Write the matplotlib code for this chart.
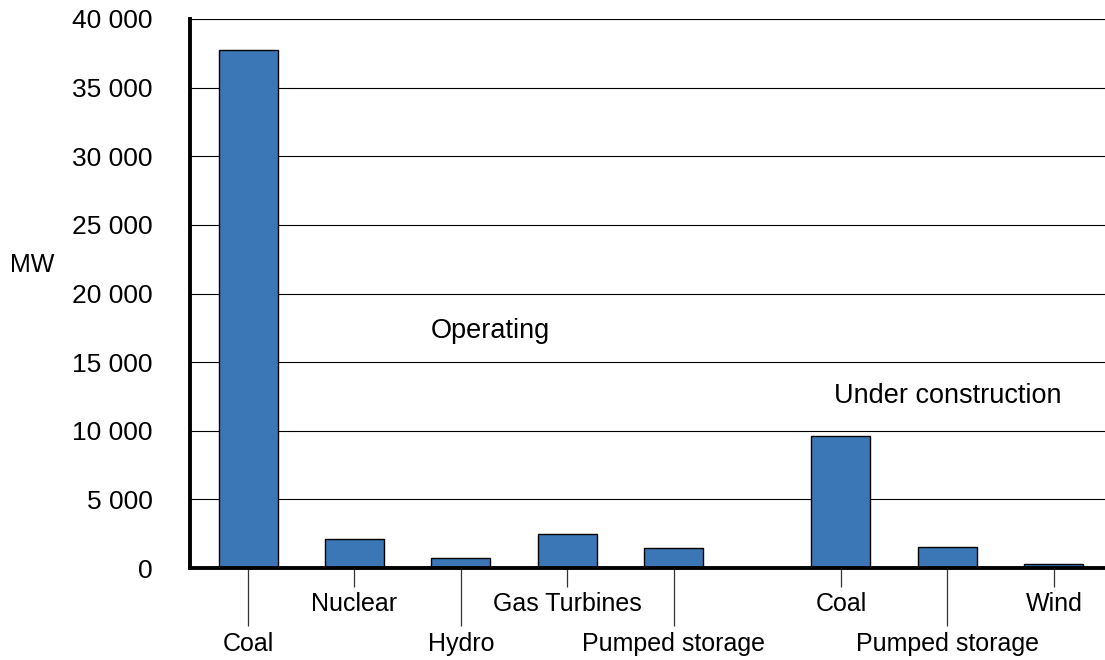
import matplotlib
matplotlib.use('Agg')
import matplotlib.pyplot as plt
from matplotlib.ticker import FuncFormatter

# operating capacity, MW
operating_labels = ['Coal', 'Nuclear', 'Hydro', 'Gas Turbines', 'Pumped storage']
operating_mw = [37750, 2100, 700, 2500, 1450]

# under construction, MW
construction_labels = ['Coal', 'Pumped storage', 'Wind']
construction_mw = [9650, 1500, 300]

plt.rcParams['font.family'] = ['Liberation Sans', 'DejaVu Sans']
plt.rcParams['font.size'] = 18

labels = operating_labels + construction_labels
values = operating_mw + construction_mw
gap = 0.57
xs = list(range(len(operating_labels))) + \
     [len(operating_labels) + gap + i for i in range(len(construction_labels))]

fig = plt.figure(figsize=(11.05, 6.6), dpi=100)
ax = fig.add_axes([190 / 1105, 1 - 568 / 660, 1 - 190 / 1105, (568 - 19) / 660])

ax.bar(xs, values, width=0.554, color='#3b77b7', edgecolor='black', linewidth=1.0, zorder=3)

ax.set_xlim(-0.545, xs[-1] + 0.48)
ax.set_ylim(0, 40000)
ax.set_yticks(range(0, 40001, 5000))
ax.yaxis.set_major_formatter(FuncFormatter(lambda v, p: '{:,}'.format(int(v)).replace(',', ' ')))
ax.tick_params(axis='y', length=0, pad=27, labelsize=19)
ax.yaxis.grid(True, color='black', linewidth=0.8, zorder=0)

# long ticks on every other bar, short ticks between them
ax.set_xticks(xs[0::2])
ax.set_xticklabels(labels[0::2])
ax.set_xticks(xs[1::2], minor=True)
ax.set_xticklabels(labels[1::2], minor=True)
ax.tick_params(axis='x', which='major', length=42, width=0.9, color='#333333', pad=4, labelsize=18)
ax.tick_params(axis='x', which='minor', length=14, width=0.9, color='#333333', pad=3, labelsize=18)

for s in ['top', 'right']:
    ax.spines[s].set_visible(False)
ax.spines['left'].set_linewidth(2.8)
ax.spines['bottom'].set_linewidth(2.8)
ax.spines['left'].set_zorder(4)
ax.spines['bottom'].set_zorder(4)

ax.text(2.28, 17300, 'Operating', ha='center', va='center', fontsize=19.5)
ax.text(xs[6], 12500, 'Under construction', ha='center', va='center', fontsize=19.5)
fig.text(10 / 1105, 1 - 265 / 660, 'MW', ha='left', va='center', fontsize=18)

plt.savefig('out.png', dpi=100)
